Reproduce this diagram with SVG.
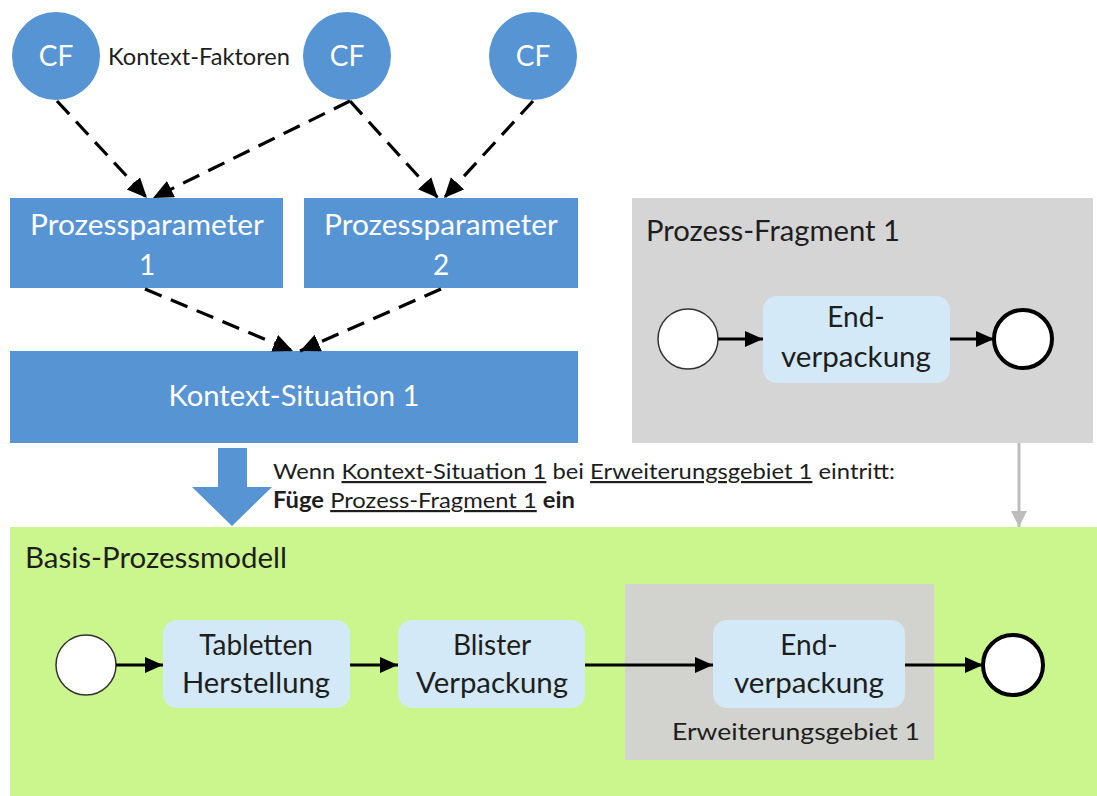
<svg xmlns="http://www.w3.org/2000/svg" width="1097" height="796" viewBox="0 0 1097 796">
  <style>
    text { font-family: "Lato", "Liberation Sans", sans-serif; }
    .blue { fill: #5794d3; }
    .wt { fill: #ffffff; text-anchor: middle; }
    .dk { fill: #1e1e1e; }
    .mid { text-anchor: middle; }
    .task { fill: #d4e9f7; }
    .gray { fill: #d5d5d5; }
    .dash { stroke: #000; stroke-width: 3.2; stroke-dasharray: 18 10; fill: none; }
    .flow { stroke: #000; stroke-width: 2.8; fill: none; }
    .start { fill: #fff; stroke: #333; stroke-width: 1.5; }
    .end { fill: #fff; stroke: #000; stroke-width: 4; }
  </style>
  <defs>
    <marker id="ah" markerUnits="userSpaceOnUse" markerWidth="22" markerHeight="20" refX="20" refY="9" orient="auto">
      <path d="M0,0 L20,9 L0,18 z" fill="#000"/>
    </marker>
    <marker id="ahs" markerUnits="userSpaceOnUse" markerWidth="20" markerHeight="18" refX="18" refY="8" orient="auto">
      <path d="M0,0 L18,8 L0,16 z" fill="#000"/>
    </marker>
    <marker id="ahg" markerUnits="userSpaceOnUse" markerWidth="18" markerHeight="16" refX="17" refY="8" orient="auto">
      <path d="M1,0 L17,8 L1,16 z" fill="#bdbdbd"/>
    </marker>
  </defs>

  <rect width="1097" height="796" fill="#ffffff"/>

  <!-- context factors -->
  <g id="cf1">
    <circle class="blue" cx="56" cy="56" r="44"/>
    <text class="wt" x="56" y="66" font-size="28">CF</text>
  </g>
  <text id="cf-label" class="dk" x="108" y="65" font-size="23" textLength="182" lengthAdjust="spacingAndGlyphs">Kontext-Faktoren</text>
  <g id="cf2">
    <circle class="blue" cx="347" cy="56" r="44"/>
    <text class="wt" x="347" y="66" font-size="28">CF</text>
  </g>
  <g id="cf3">
    <circle class="blue" cx="533" cy="56" r="44"/>
    <text class="wt" x="533" y="66" font-size="28">CF</text>
  </g>

  <!-- process parameters -->
  <g id="pp1">
    <rect class="blue" x="10" y="198" width="273" height="90"/>
    <text class="wt" x="147" y="235" font-size="28" textLength="234" lengthAdjust="spacingAndGlyphs">Prozessparameter</text>
    <text class="wt" x="147" y="275" font-size="28">1</text>
  </g>
  <g id="pp2">
    <rect class="blue" x="304" y="198" width="274" height="90"/>
    <text class="wt" x="441" y="235" font-size="28" textLength="234" lengthAdjust="spacingAndGlyphs">Prozessparameter</text>
    <text class="wt" x="441" y="275" font-size="28">2</text>
  </g>

  <!-- context situation -->
  <g id="ks1">
    <rect class="blue" x="10" y="351" width="568" height="92"/>
    <text class="wt" x="294" y="406" font-size="28" textLength="251" lengthAdjust="spacingAndGlyphs">Kontext-Situation 1</text>
  </g>

  <!-- rule arrow and text -->
  <g id="rule">
    <path class="blue" d="M218,448 H247 V487 H272 L232,526 L192,487 H218 Z"/>
    <text class="dk" x="273" y="479" font-size="22" textLength="622" lengthAdjust="spacingAndGlyphs">Wenn <tspan text-decoration="underline">Kontext-Situation 1</tspan> bei <tspan text-decoration="underline">Erweiterungsgebiet 1</tspan> eintritt:</text>
    <text class="dk" x="273" y="508" font-size="22" textLength="302" lengthAdjust="spacingAndGlyphs"><tspan font-weight="bold">Füge</tspan> <tspan text-decoration="underline">Prozess-Fragment 1</tspan> <tspan font-weight="bold">ein</tspan></text>
  </g>

  <!-- process fragment -->
  <g id="fragment">
    <rect class="gray" x="632" y="198" width="461" height="245"/>
    <text class="dk" x="646" y="241" font-size="28" textLength="254" lengthAdjust="spacingAndGlyphs">Prozess-Fragment 1</text>
  </g>
  <g id="frag-start"><circle class="start" cx="688" cy="339" r="30"/></g>
  <g id="frag-task">
    <rect class="task" x="763" y="296" width="187" height="87" rx="14"/>
    <text class="dk mid" x="856" y="327" font-size="28">End-</text>
    <text class="dk mid" x="856" y="367" font-size="28" textLength="150" lengthAdjust="spacingAndGlyphs">verpackung</text>
  </g>
  <g id="frag-end"><circle class="end" cx="1023" cy="339" r="29"/></g>

  <!-- base process model -->
  <g id="base">
    <rect x="10" y="527" width="1087" height="269" fill="#cbf68e"/>
    <text class="dk" x="25" y="568" font-size="28" textLength="262" lengthAdjust="spacingAndGlyphs">Basis-Prozessmodell</text>
  </g>
  <g id="ext-area">
    <rect x="625" y="584" width="309" height="176" fill="#d2d3cf"/>
    <text class="dk" x="672" y="740" font-size="24" textLength="248" lengthAdjust="spacingAndGlyphs">Erweiterungsgebiet 1</text>
  </g>
  <g id="base-start"><circle class="start" cx="86" cy="665" r="30"/></g>
  <g id="task-tabletten">
    <rect class="task" x="163" y="620" width="187" height="88" rx="14"/>
    <text class="dk mid" x="256" y="655" font-size="28">Tabletten</text>
    <text class="dk mid" x="256" y="693" font-size="28" textLength="148" lengthAdjust="spacingAndGlyphs">Herstellung</text>
  </g>
  <g id="task-blister">
    <rect class="task" x="398" y="620" width="187" height="88" rx="14"/>
    <text class="dk mid" x="492" y="655" font-size="28">Blister</text>
    <text class="dk mid" x="492" y="693" font-size="28" textLength="152" lengthAdjust="spacingAndGlyphs">Verpackung</text>
  </g>
  <g id="task-end">
    <rect class="task" x="713" y="620" width="192" height="88" rx="14"/>
    <text class="dk mid" x="809" y="655" font-size="28">End-</text>
    <text class="dk mid" x="809" y="693" font-size="28" textLength="150" lengthAdjust="spacingAndGlyphs">verpackung</text>
  </g>
  <g id="base-end"><circle class="end" cx="1013" cy="665" r="30"/></g>

  <!-- connectors -->
  <g id="connectors">
    <line class="dash" x1="57" y1="101" x2="147" y2="198" marker-end="url(#ah)"/>
    <line class="dash" x1="350" y1="101" x2="153" y2="198" marker-end="url(#ah)"/>
    <line class="dash" x1="350" y1="101" x2="438" y2="198" marker-end="url(#ah)"/>
    <line class="dash" x1="533" y1="101" x2="444" y2="198" marker-end="url(#ah)"/>
    <line class="dash" x1="145" y1="289" x2="293" y2="351" marker-end="url(#ah)"/>
    <line class="dash" x1="441" y1="289" x2="300" y2="351" marker-end="url(#ah)"/>
    <line x1="1019" y1="443" x2="1019" y2="527" stroke="#bdbdbd" stroke-width="3" marker-end="url(#ahg)"/>
    <line class="flow" x1="718" y1="339" x2="763" y2="339" marker-end="url(#ahs)"/>
    <line class="flow" x1="950" y1="339" x2="994" y2="339" marker-end="url(#ahs)"/>
    <line class="flow" x1="116" y1="665" x2="163" y2="665" marker-end="url(#ahs)"/>
    <line class="flow" x1="350" y1="665" x2="398" y2="665" marker-end="url(#ahs)"/>
    <line class="flow" x1="585" y1="665" x2="713" y2="665" marker-end="url(#ahs)"/>
    <line class="flow" x1="905" y1="665" x2="983" y2="665" marker-end="url(#ahs)"/>
  </g>
</svg>
